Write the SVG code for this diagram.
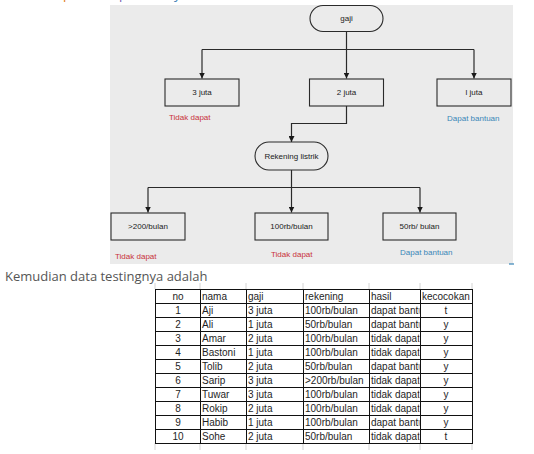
<svg xmlns="http://www.w3.org/2000/svg" width="534" height="454" viewBox="0 0 534 454">
<style>
.box{fill:none;stroke:#2a2a2a;stroke-width:1.1}
.lbl{font-family:"Liberation Sans",Arial,sans-serif;font-size:8px;fill:#222;text-anchor:middle}
.red{font-family:"Liberation Sans",Arial,sans-serif;font-size:8px;fill:#c8323a}
.blue{font-family:"Liberation Sans",Arial,sans-serif;font-size:8px;fill:#3a86b8}
.con{fill:none;stroke:#2a2a2a;stroke-width:1.2}
.tt{font-family:"Liberation Sans",Arial,sans-serif;font-size:10px;fill:#1e1e1e}
.tc{text-anchor:middle}
.grid{stroke:#111;stroke-width:1}
.faint{stroke:#d4d4d4;stroke-width:1}
</style>
<defs>
<marker id="arr" markerUnits="userSpaceOnUse" markerWidth="6" markerHeight="6" refX="6" refY="3" orient="auto">
<path d="M0,0 L6,3 L0,6 z" fill="#1a1a1a"/>
</marker>
<clipPath id="hasilClip"><rect x="369" y="289" width="50.5" height="155"/></clipPath>
</defs>
<rect width="534" height="454" fill="#fff"/>
<g id="topfragments" font-family="'Open Sans',sans-serif" font-size="13">
<text x="63" y="-1" fill="#e07a20">p</text>
<text x="119" y="-1" fill="#7a5cb0">p</text>
<text x="174" y="-1" fill="#3f7fb5">y</text>
</g>
<rect id="panel" x="110" y="5" width="403" height="259" fill="#ebebeb"/>
<line x1="509" y1="264" x2="514" y2="264" stroke="#3a86b8" stroke-width="1.2"/>
<g id="connectors">
<path class="con" d="M346.5 31.5 V49.5"/>
<path class="con" d="M202 49.5 H474"/>
<path class="con" d="M202 49.5 V78.5" marker-end="url(#arr)"/>
<path class="con" d="M346.5 49.5 V78.5" marker-end="url(#arr)"/>
<path class="con" d="M474 49.5 V78.5" marker-end="url(#arr)"/>
<path class="con" d="M346.5 106 V123.5 H291.5 V142" marker-end="url(#arr)"/>
<path class="con" d="M291.5 170 V187.5"/>
<path class="con" d="M148 187.5 H420"/>
<path class="con" d="M148 187.5 V212.5" marker-end="url(#arr)"/>
<path class="con" d="M291.5 187.5 V212.5" marker-end="url(#arr)"/>
<path class="con" d="M420 187.5 V212.5" marker-end="url(#arr)"/>
</g>
<g id="gaji"><rect class="box" x="310" y="5.5" width="73" height="26" rx="13"/><text class="lbl" x="346.5" y="21">gaji</text></g>
<g id="juta3"><rect class="box" x="165" y="79" width="74" height="27"/><text class="lbl" x="202" y="95">3 juta</text><text class="red" x="169" y="120">Tidak dapat</text></g>
<g id="juta2"><rect class="box" x="309.5" y="79" width="74" height="27"/><text class="lbl" x="346.5" y="95">2 juta</text></g>
<g id="juta1"><rect class="box" x="437" y="79" width="74" height="27"/><text class="lbl" x="474" y="95">l juta</text><text class="blue" x="447" y="121">Dapat bantuan</text></g>
<g id="rekening"><rect class="box" x="255" y="142" width="73" height="28" rx="14"/><text class="lbl" x="291.5" y="159">Rekening listrik</text></g>
<g id="r200"><rect class="box" x="111" y="213" width="74" height="27"/><text class="lbl" x="148" y="229">&gt;200/bulan</text><text class="red" x="115" y="259">Tidak dapat</text></g>
<g id="r100"><rect class="box" x="255" y="213" width="73" height="27"/><text class="lbl" x="291.5" y="229">100rb/bulan</text><text class="red" x="271" y="257">Tidak dapat</text></g>
<g id="r50"><rect class="box" x="383" y="213" width="73" height="27"/><text class="lbl" x="419.5" y="229">50rb/ bulan</text><text class="blue" x="400" y="255">Dapat bantuan</text></g>
<text x="5" y="281" font-family="'Open Sans',sans-serif" font-size="13" fill="#555">Kemudian data testingnya adalah</text>
<g id="table">
<g class="faint">
<line x1="155" y1="283" x2="155" y2="289"/><line x1="200" y1="283" x2="200" y2="289"/><line x1="246" y1="283" x2="246" y2="289"/><line x1="303" y1="283" x2="303" y2="289"/><line x1="369" y1="283" x2="369" y2="289"/><line x1="420" y1="283" x2="420" y2="289"/><line x1="472" y1="283" x2="472" y2="289"/>
<line x1="155" y1="443" x2="155" y2="450"/><line x1="200" y1="443" x2="200" y2="450"/><line x1="246" y1="443" x2="246" y2="450"/><line x1="303" y1="443" x2="303" y2="450"/><line x1="369" y1="443" x2="369" y2="450"/><line x1="420" y1="443" x2="420" y2="450"/><line x1="472" y1="443" x2="472" y2="450"/>
</g>
<rect x="155" y="289" width="317" height="154" fill="#fff"/>
<g class="grid">
<line x1="155" y1="289.5" x2="472" y2="289.5"/>
<line x1="155" y1="303.5" x2="472" y2="303.5"/>
<line x1="155" y1="317.5" x2="472" y2="317.5"/>
<line x1="155" y1="331.5" x2="472" y2="331.5"/>
<line x1="155" y1="345.5" x2="472" y2="345.5"/>
<line x1="155" y1="359.5" x2="472" y2="359.5"/>
<line x1="155" y1="373.5" x2="472" y2="373.5"/>
<line x1="155" y1="387.5" x2="472" y2="387.5"/>
<line x1="155" y1="401.5" x2="472" y2="401.5"/>
<line x1="155" y1="415.5" x2="472" y2="415.5"/>
<line x1="155" y1="429.5" x2="472" y2="429.5"/>
<line x1="155" y1="443.5" x2="472" y2="443.5"/>
<line x1="155.5" y1="289" x2="155.5" y2="444"/>
<line x1="200.5" y1="289" x2="200.5" y2="444"/>
<line x1="246.5" y1="289" x2="246.5" y2="444"/>
<line x1="303.5" y1="289" x2="303.5" y2="444"/>
<line x1="369.5" y1="289" x2="369.5" y2="444"/>
<line x1="420.5" y1="289" x2="420.5" y2="444"/>
<line x1="472.5" y1="289" x2="472.5" y2="444"/>
</g>
<g class="tt">
<text class="tc" x="178" y="300">no</text><text x="202" y="300">nama</text><text x="248" y="300">gaji</text><text x="305" y="300">rekening</text><text x="371" y="300">hasil</text><text x="422" y="300">kecocokan</text>
<text class="tc" x="178" y="314">1</text><text x="202" y="314">Aji</text><text x="248" y="314">3 juta</text><text x="305" y="314">100rb/bulan</text><text x="446" y="314" class="tc">t</text>
<text class="tc" x="178" y="328">2</text><text x="202" y="328">Ali</text><text x="248" y="328">1 juta</text><text x="305" y="328">50rb/bulan</text><text x="446" y="328" class="tc">y</text>
<text class="tc" x="178" y="342">3</text><text x="202" y="342">Amar</text><text x="248" y="342">2 juta</text><text x="305" y="342">100rb/bulan</text><text x="446" y="342" class="tc">y</text>
<text class="tc" x="178" y="356">4</text><text x="202" y="356">Bastoni</text><text x="248" y="356">1 juta</text><text x="305" y="356">100rb/bulan</text><text x="446" y="356" class="tc">y</text>
<text class="tc" x="178" y="370">5</text><text x="202" y="370">Tolib</text><text x="248" y="370">2 juta</text><text x="305" y="370">50rb/bulan</text><text x="446" y="370" class="tc">y</text>
<text class="tc" x="178" y="384">6</text><text x="202" y="384">Sarip</text><text x="248" y="384">3 juta</text><text x="305" y="384">&gt;200rb/bulan</text><text x="446" y="384" class="tc">y</text>
<text class="tc" x="178" y="398">7</text><text x="202" y="398">Tuwar</text><text x="248" y="398">3 juta</text><text x="305" y="398">100rb/bulan</text><text x="446" y="398" class="tc">y</text>
<text class="tc" x="178" y="412">8</text><text x="202" y="412">Rokip</text><text x="248" y="412">2 juta</text><text x="305" y="412">100rb/bulan</text><text x="446" y="412" class="tc">y</text>
<text class="tc" x="178" y="426">9</text><text x="202" y="426">Habib</text><text x="248" y="426">1 juta</text><text x="305" y="426">100rb/bulan</text><text x="446" y="426" class="tc">y</text>
<text class="tc" x="178" y="440">10</text><text x="202" y="440">Sohe</text><text x="248" y="440">2 juta</text><text x="305" y="440">50rb/bulan</text><text x="446" y="440" class="tc">t</text>
<g clip-path="url(#hasilClip)">
<text x="371" y="314">dapat bantuan</text>
<text x="371" y="328">dapat bantuan</text>
<text x="371" y="342">tidak dapat</text>
<text x="371" y="356">tidak dapat</text>
<text x="371" y="370">dapat bantuan</text>
<text x="371" y="384">tidak dapat</text>
<text x="371" y="398">tidak dapat</text>
<text x="371" y="412">tidak dapat</text>
<text x="371" y="426">dapat bantuan</text>
<text x="371" y="440">tidak dapat</text>
</g>
</g>
</g>
</svg>
